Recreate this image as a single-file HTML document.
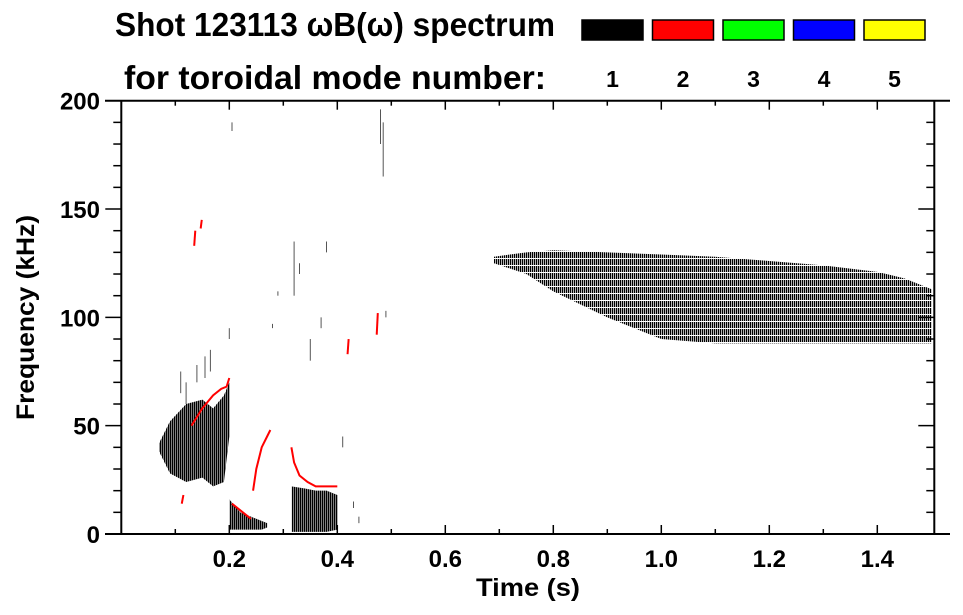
<!DOCTYPE html>
<html><head><meta charset="utf-8"><style>
body{margin:0;background:#fff;}
svg{display:block;font-family:"Liberation Sans",Arial,sans-serif;font-weight:bold;}
</style></head><body>
<svg id="chart" width="963" height="615" viewBox="0 0 963 615">
<defs>
<pattern id="hatch" width="2" height="7" patternUnits="userSpaceOnUse"><rect x="0" y="0" width="1.3" height="6" fill="#000"/></pattern>
<pattern id="hatch2" width="2" height="4" patternUnits="userSpaceOnUse"><rect x="0" y="0" width="1.5" height="4" fill="#000"/></pattern>
</defs>
<g id="marks"></g>
<g id="axes"></g>
<text x="115" y="36" font-size="33" textLength="440" lengthAdjust="spacingAndGlyphs">Shot 123113 ωB(ω) spectrum</text>
<text x="124" y="89" font-size="33" textLength="422" lengthAdjust="spacingAndGlyphs">for toroidal mode number:</text>
<g id="legend"></g>
<text x="476" y="596" font-size="25" textLength="104" lengthAdjust="spacingAndGlyphs">Time (s)</text>
<text transform="translate(34,420) rotate(-90)" font-size="25" textLength="205" lengthAdjust="spacingAndGlyphs">Frequency (kHz)</text>
</svg>
<script>
const xTicks=[0.2,0.4,0.6,0.8,1.0,1.2,1.4];
const xTickLabels=["0.2","0.4","0.6","0.8","1.0","1.2","1.4"];
const yTicks=[0,50,100,150,200];
const yTickLabels=["0","50","100","150","200"];
const modes=["1","2","3","4","5"];
const modeColors=["#000000","#ff0000","#00ff00","#0000ff","#ffff00"];
// mode-1 broadband regions: times, lower & upper frequency envelope (kHz)
const regionTimes=[[0.07,0.09,0.12,0.15,0.17,0.19,0.2],[0.2,0.22,0.24,0.26,0.27],[0.315,0.34,0.36,0.38,0.40],[0.69,0.75,0.8,0.9,1.0,1.1,1.2,1.3,1.4,1.45,1.5]];
const regionLow=[[38,28,24,26,22,24,45],[2,2,2,2,3],[1,1,1,1,2],[125,120,112,100,90,88,88,88,88,88,88]];
const regionHigh=[[42,52,60,62,58,64,70],[16,10,8,6,5],[22,21,20,20,18],[128,130,131,130,129,128,126,124,121,118,113]];
// mode-2 (red) arcs: time, frequency
const redArcs=[
 {t:[0.13,0.15,0.17,0.185,0.195,0.2],f:[50,58,64,67,68,72]},
 {t:[0.244,0.25,0.26,0.27,0.276],f:[20,30,40,45,48]},
 {t:[0.315,0.32,0.33,0.345,0.36,0.38,0.4],f:[40,33,27,24,22,22,22]},
 {t:[0.135,0.137],f:[133,140]},{t:[0.147,0.149],f:[141,145]},
 {t:[0.205,0.22,0.24],f:[14,11,7]},
 {t:[0.112,0.115],f:[14,18]},
 {t:[0.419,0.421],f:[83,90]},{t:[0.473,0.475],f:[92,102]}
];
// sparse mode-1 streaks: time, fLow, fHigh
const streakT=[0.11,0.12,0.14,0.155,0.165,0.2,0.205,0.28,0.29,0.32,0.33,0.35,0.37,0.38,0.41,0.43,0.44,0.48,0.485,0.49];
const streakLo=[65,60,70,72,75,90,186,95,110,110,120,80,95,130,40,12,5,180,165,100];
const streakHi=[75,70,78,82,85,95,190,97,112,135,125,90,100,135,45,15,8,196,190,103];

const NS="http://www.w3.org/2000/svg";
const X0=121.3,X1=934.3,Y0=534,Y1=100.7;
const xScale=t=>X0+t*540;
const yScale=f=>Y0-f*(Y0-Y1)/200;
function mk(tag,attrs,parent){const e=document.createElementNS(NS,tag);for(const k in attrs)e.setAttribute(k,attrs[k]);parent.appendChild(e);return e;}
const marks=document.getElementById('marks'),axes=document.getElementById('axes'),legend=document.getElementById('legend');

regionTimes.forEach((ts,i)=>{
 let pts=ts.map((t,j)=>xScale(t)+','+yScale(regionHigh[i][j]));
 for(let j=ts.length-1;j>=0;j--)pts.push(xScale(ts[j])+','+yScale(regionLow[i][j]));
 const p=mk('polygon',{points:pts.join(' '),fill:i===3?'url(#hatch)':'url(#hatch2)'},marks);
 
 
});
redArcs.forEach((a,i)=>{
 const p=mk('polyline',{points:a.t.map((t,j)=>xScale(t)+','+yScale(a.f[j])).join(' '),fill:'none',stroke:'#ff0000','stroke-width':2},marks);
 
 
});
streakT.forEach((t,i)=>{
 const l=mk('line',{x1:xScale(t),x2:xScale(t),y1:yScale(streakLo[i]),y2:yScale(streakHi[i]),stroke:'#555','stroke-width':1},marks);
 
 
});

mk('line',{x1:105,x2:950,y1:Y0,y2:Y0,stroke:'#000','stroke-width':2},axes);
mk('line',{x1:105,x2:950,y1:Y1,y2:Y1,stroke:'#000','stroke-width':2},axes);
mk('line',{x1:X0,x2:X0,y1:Y1,y2:Y0,stroke:'#000','stroke-width':2},axes);
mk('line',{x1:X1,x2:X1,y1:Y1,y2:Y0,stroke:'#000','stroke-width':2},axes);
for(let k=1;k<=14;k++){const t=k*0.1,x=xScale(t),len=(k%2===0)?9:5;
 mk('line',{x1:x,x2:x,y1:Y0,y2:Y0-len,stroke:'#000','stroke-width':1.5},axes);
 mk('line',{x1:x,x2:x,y1:Y1,y2:Y1+len,stroke:'#000','stroke-width':1.5},axes);}
for(let f=0;f<=200;f+=10){const y=yScale(f),maj=f%50===0;
 mk('line',{x1:X0,x2:X0-(maj?16:8),y1:y,y2:y,stroke:'#000','stroke-width':1.5},axes);
 mk('line',{x1:X1,x2:X1-(maj?16:8),y1:y,y2:y,stroke:'#000','stroke-width':1.5},axes);}
xTicks.forEach((t,i)=>{const e=mk('text',{x:xScale(t),y:567,'font-size':24,'text-anchor':'middle'},axes);e.textContent=xTickLabels[i];
 
 });
yTicks.forEach((f,i)=>{const e=mk('text',{x:100,y:yScale(f)+9,'font-size':24,'text-anchor':'end'},axes);e.textContent=yTickLabels[i];
 
 });
modes.forEach((m,i)=>{const x=582+i*70.5;
 const r=mk('rect',{x:x,y:20,width:61,height:20,fill:modeColors[i],stroke:'#000','stroke-width':1.5},legend);
 
 
 const t=mk('text',{x:x+30.5,y:87,'font-size':23,'text-anchor':'middle'},legend);t.textContent=m;
 
 });
</script>
</body></html>
